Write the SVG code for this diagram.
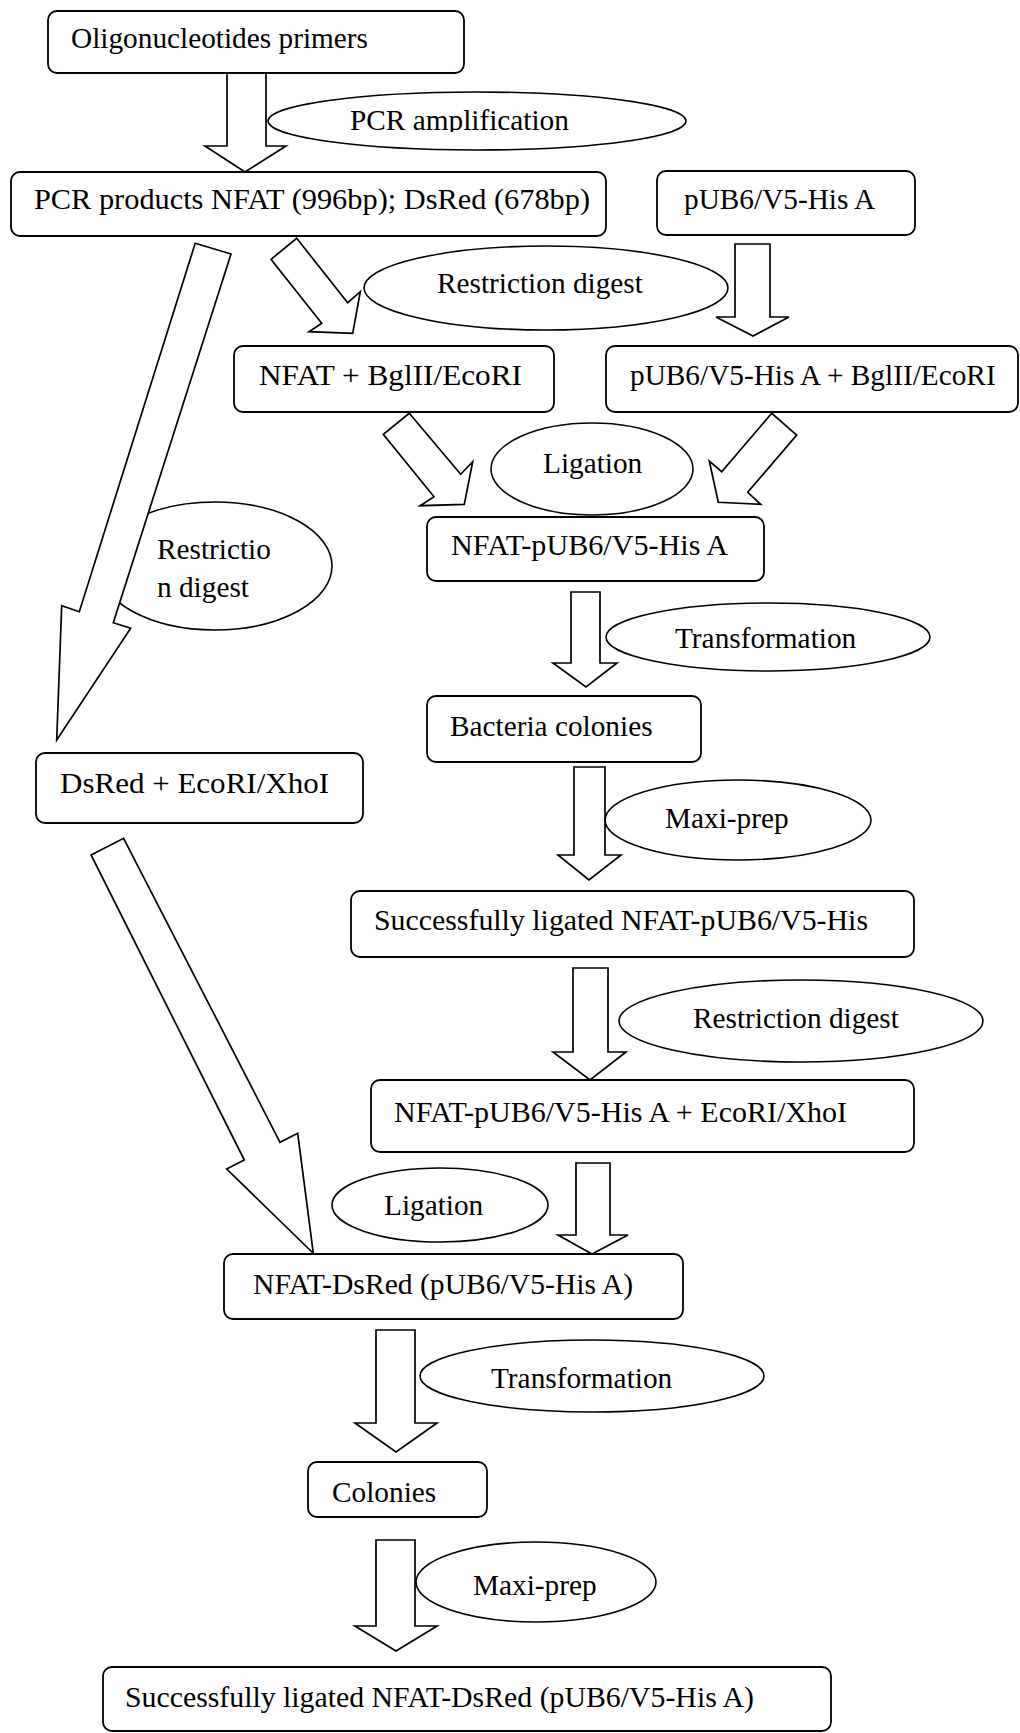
<svg xmlns="http://www.w3.org/2000/svg" width="1020" height="1733" viewBox="0 0 1020 1733">
  <style>
    .box { fill: #ffffff; stroke: #000000; stroke-width: 1.8; }
    .oval { fill: #ffffff; stroke: #000000; stroke-width: 1.6; }
    .arrow { fill: #ffffff; stroke: #000000; stroke-width: 1.7; stroke-linejoin: miter; }
    text { font-family: "Liberation Serif", "Times New Roman", serif; font-size: 29.3px; fill: #000000; }
  </style>
  <defs>
    <clipPath id="clip-pcr">
      <rect x="268" y="90" width="420" height="42"/>
    </clipPath>
  </defs>
  <rect width="1020" height="1733" fill="#ffffff"/>

  <!-- process step ovals -->
  <g id="step-pcr-amplification">
    <ellipse class="oval" cx="477" cy="121" rx="209" ry="29"/>
    <text x="350" y="130" clip-path="url(#clip-pcr)">PCR amplification</text>
  </g>
  <g id="step-restriction-1">
    <ellipse class="oval" cx="546" cy="288" rx="182" ry="42"/>
    <text x="437" y="293">Restriction digest</text>
  </g>
  <g id="step-restriction-left">
    <ellipse class="oval" cx="215" cy="566" rx="117" ry="64"/>
    <text x="157" y="559">Restrictio</text>
    <text x="157" y="597">n digest</text>
  </g>
  <g id="step-ligation-1">
    <ellipse class="oval" cx="592" cy="469" rx="101" ry="46"/>
    <text x="543" y="473">Ligation</text>
  </g>
  <g id="step-transformation-1">
    <ellipse class="oval" cx="768" cy="637" rx="162" ry="34"/>
    <text x="675" y="648">Transformation</text>
  </g>
  <g id="step-maxiprep-1">
    <ellipse class="oval" cx="738" cy="820" rx="133" ry="40"/>
    <text x="665" y="828">Maxi-prep</text>
  </g>
  <g id="step-restriction-2">
    <ellipse class="oval" cx="801" cy="1021" rx="182" ry="41"/>
    <text x="693" y="1028">Restriction digest</text>
  </g>
  <g id="step-ligation-2">
    <ellipse class="oval" cx="440" cy="1205" rx="108" ry="37"/>
    <text x="384" y="1215">Ligation</text>
  </g>
  <g id="step-transformation-2">
    <ellipse class="oval" cx="592" cy="1376" rx="172" ry="36"/>
    <text x="491" y="1388">Transformation</text>
  </g>
  <g id="step-maxiprep-2">
    <ellipse class="oval" cx="536" cy="1582" rx="120" ry="40"/>
    <text x="473" y="1595">Maxi-prep</text>
  </g>

  <!-- block arrows -->
  <g id="connectors">
    <polygon class="arrow" points="227,73 266,73 266,146 286,146 245,172 205,146 227,146"/>
    <polygon class="arrow" points="296.7,238.3 347.7,302.7 360.3,291.7 352.7,333.3 309,331.7 321.7,323.3 271,259.3"/>
    <polygon class="arrow" points="195.2,243.3 231,254 113.3,622.7 130.7,628.3 56.7,740 61.7,605.7 79.3,611.7"/>
    <polygon class="arrow" points="735,244 770,244 770,317 789,317 753,336 716,317 735,317"/>
    <polygon class="arrow" points="409.3,413.3 460.7,474.3 472.7,461.7 464.3,504.3 420,505.7 434,496.7 383.3,434.3"/>
    <polygon class="arrow" points="771.7,413.3 721.7,471.7 709.3,461 718.3,502.3 760.7,504.3 747.7,492.3 796.7,435"/>
    <polygon class="arrow" points="571,592 600,592 600,663 617,663 586,687 553,663 571,663"/>
    <polygon class="arrow" points="574,767 605,767 605,855 621,855 589,880 558,855 574,855"/>
    <polygon class="arrow" points="91.1,855 123.6,838.3 280,1142.3 297.7,1133.3 313.3,1253.3 226.7,1169 244.3,1160"/>
    <polygon class="arrow" points="573,968 608,968 608,1052 626,1052 590,1080 553,1052 573,1052"/>
    <polygon class="arrow" points="576,1163 610,1163 610,1235 628,1235 592,1254 558,1235 576,1235"/>
    <polygon class="arrow" points="376,1330 415,1330 415,1423 437,1423 396,1452 355,1423 376,1423"/>
    <polygon class="arrow" points="376,1540 415,1540 415,1626 437,1626 396,1651 355,1626 376,1626"/>
  </g>

  <!-- material boxes -->
  <g id="node-primers">
    <rect class="box" x="48" y="11" width="416" height="62" rx="9"/>
    <text x="71" y="48">Oligonucleotides primers</text>
  </g>
  <g id="node-pcr-products">
    <rect class="box" x="11" y="172" width="595" height="64" rx="9"/>
    <text x="34" y="209" textLength="556" lengthAdjust="spacingAndGlyphs">PCR products NFAT (996bp); DsRed (678bp)</text>
  </g>
  <g id="node-vector">
    <rect class="box" x="657" y="171" width="258" height="64" rx="9"/>
    <text x="684" y="209">pUB6/V5-His A</text>
  </g>
  <g id="node-nfat-digest">
    <rect class="box" x="234" y="346" width="320" height="66" rx="9"/>
    <text x="259" y="385" textLength="263" lengthAdjust="spacingAndGlyphs">NFAT + BglII/EcoRI</text>
  </g>
  <g id="node-vector-digest">
    <rect class="box" x="606" y="346" width="412" height="66" rx="9"/>
    <text x="630" y="385">pUB6/V5-His A + BglII/EcoRI</text>
  </g>
  <g id="node-nfat-vector">
    <rect class="box" x="427" y="517" width="337" height="64" rx="9"/>
    <text x="451" y="555" textLength="277" lengthAdjust="spacingAndGlyphs">NFAT-pUB6/V5-His A</text>
  </g>
  <g id="node-bacteria">
    <rect class="box" x="427" y="696" width="274" height="66" rx="9"/>
    <text x="450" y="736">Bacteria colonies</text>
  </g>
  <g id="node-dsred-digest">
    <rect class="box" x="36" y="753" width="327" height="70" rx="9"/>
    <text x="60" y="793" textLength="269" lengthAdjust="spacingAndGlyphs">DsRed + EcoRI/XhoI</text>
  </g>
  <g id="node-ligated-nfat">
    <rect class="box" x="351" y="891" width="563" height="66" rx="9"/>
    <text x="374" y="930" textLength="494" lengthAdjust="spacingAndGlyphs">Successfully ligated NFAT-pUB6/V5-His</text>
  </g>
  <g id="node-nfat-vector-digest">
    <rect class="box" x="371" y="1080" width="543" height="72" rx="9"/>
    <text x="394" y="1122" textLength="453" lengthAdjust="spacingAndGlyphs">NFAT-pUB6/V5-His A + EcoRI/XhoI</text>
  </g>
  <g id="node-nfat-dsred">
    <rect class="box" x="224" y="1254" width="459" height="65" rx="9"/>
    <text x="253" y="1294" textLength="380" lengthAdjust="spacingAndGlyphs">NFAT-DsRed (pUB6/V5-His A)</text>
  </g>
  <g id="node-colonies">
    <rect class="box" x="308" y="1462" width="179" height="55" rx="9"/>
    <text x="332" y="1502">Colonies</text>
  </g>
  <g id="node-final">
    <rect class="box" x="103" y="1667" width="728" height="64" rx="9"/>
    <text x="125" y="1707" textLength="629" lengthAdjust="spacingAndGlyphs">Successfully ligated NFAT-DsRed (pUB6/V5-His A)</text>
  </g>
</svg>
